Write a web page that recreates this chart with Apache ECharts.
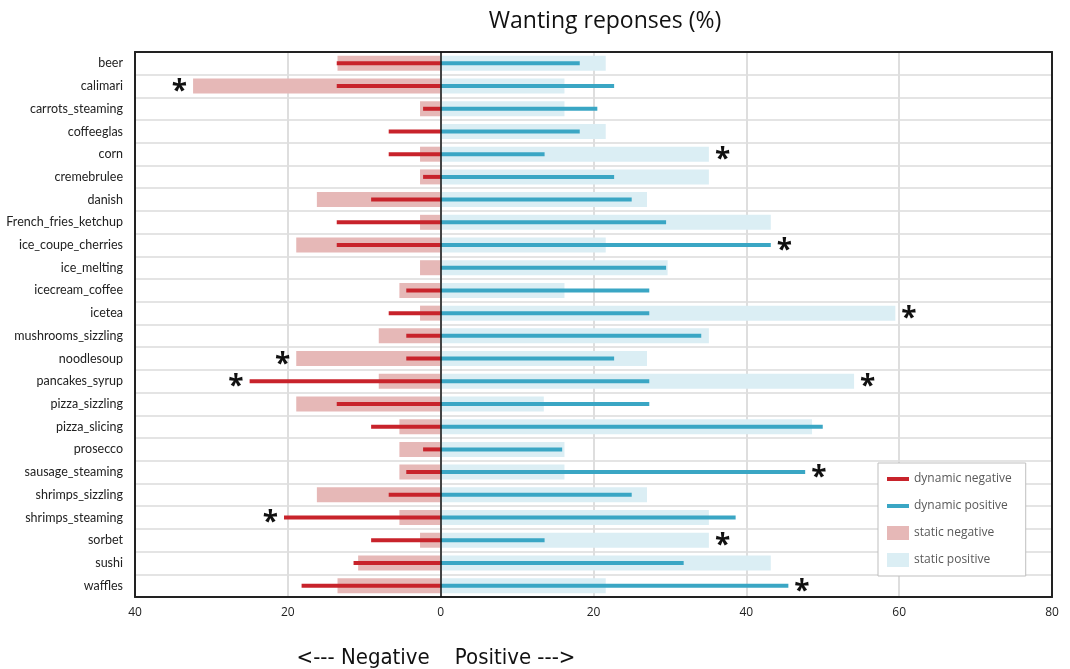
<!DOCTYPE html>
<html>
<head>
<meta charset="utf-8">
<script src="https://cdn.jsdelivr.net/npm/echarts@6/dist/echarts.min.js"></script>
<style>
html,body{margin:0;padding:0;background:#fff;}
#chart{width:1070px;height:669px;}
</style>
</head>
<body>
<div id="chart"></div>
<script>
// ---- data ----
var categories = ['beer','calimari','carrots_steaming','coffeeglas','corn','cremebrulee','danish','French_fries_ketchup','ice_coupe_cherries','ice_melting','icecream_coffee','icetea','mushrooms_sizzling','noodlesoup','pancakes_syrup','pizza_sizzling','pizza_slicing','prosecco','sausage_steaming','shrimps_sizzling','shrimps_steaming','sorbet','sushi','waffles'];
// negative responses (%), shown to the left of zero
var staticNegative  = [13.5, 32.4, 2.7, 0, 2.7, 2.7, 16.2, 2.7, 18.9, 2.7, 5.4, 2.7, 8.1, 18.9, 8.1, 18.9, 5.4, 5.4, 5.4, 16.2, 5.4, 2.7, 10.8, 13.5];
var dynamicNegative = [13.6, 13.6, 2.3, 6.8, 6.8, 2.3, 9.1, 13.6, 13.6, 0, 4.5, 6.8, 4.5, 4.5, 25.0, 13.6, 9.1, 2.3, 4.5, 6.8, 20.5, 9.1, 11.4, 18.2];
// positive responses (%)
var staticPositive  = [21.6, 16.2, 16.2, 21.6, 35.1, 35.1, 27.0, 43.2, 21.6, 29.7, 16.2, 59.5, 35.1, 27.0, 54.1, 13.5, 48.6, 16.2, 16.2, 27.0, 35.1, 35.1, 43.2, 21.6];
var dynamicPositive = [18.2, 22.7, 20.5, 18.2, 13.6, 22.7, 25.0, 29.5, 43.2, 29.5, 27.3, 27.3, 34.1, 22.7, 27.3, 27.3, 50.0, 15.9, 47.7, 25.0, 38.6, 13.6, 31.8, 45.5];
// significance markers (*)
var significantNegative = ['calimari','noodlesoup','pancakes_syrup','shrimps_steaming'];
var significantPositive = ['corn','ice_coupe_cherries','icetea','pancakes_syrup','sausage_steaming','sorbet','waffles'];
var xTicks = [-40, -20, 0, 20, 40, 60, 80];

// pick an installed condensed font if present (for the bottom caption)
function hasFont(name){
  var c = document.createElement('canvas').getContext('2d');
  var s = 'French_fries_ketchup WWmmii';
  c.font = '20px monospace'; var a = c.measureText(s).width;
  c.font = '20px "' + name + '", monospace'; var b = c.measureText(s).width;
  c.font = '20px serif'; var a2 = c.measureText(s).width;
  c.font = '20px "' + name + '", serif'; var b2 = c.measureText(s).width;
  return a !== b || a2 !== b2;
}
var narrow = null;
['Liberation Sans Narrow','DejaVu Sans Condensed','Roboto Condensed','Open Sans Condensed'].forEach(function(n){
  if (!narrow && hasFont(n)) narrow = n;
});
var font = '"Open Sans", "Noto Sans", sans-serif';
var labelFont = '"Lato", "Open Sans", sans-serif';

var starLabel = function(pos){
  return {show:true, formatter:'*', position:pos, distance:6,
          fontSize:28, fontWeight:'bold', color:'#111', fontFamily:font,
          offset:[0,6]};
};
// put the asterisk on whichever bar (static/dynamic) reaches further
function buildData(values, other, sigList, sign, pos, isStatic){
  return values.map(function(v,i){
    var item = {value: sign * v};
    var sig = sigList.indexOf(categories[i]) >= 0;
    var longer = isStatic ? (v >= other[i]) : (v > other[i]);
    if (sig && longer) item.label = starLabel(pos);
    return item;
  });
}

var chart = echarts.init(document.getElementById('chart'));
var lineIcon = 'path://M0,0L0,0M0,5h22v4h-22zM22,14L22,14';
var frameLine = {show:true, onZero:false, lineStyle:{color:'#222', width:2}};
var option = {
  animation:false,
  backgroundColor:'#fff',
  title:[
    {text:'Wanting reponses (%)', left:600, top:5, textAlign:'center',
     textStyle:{fontFamily:font, fontSize:23, fontWeight:'normal', color:'#111'}},
    {text:'<--- Negative    Positive --->', left:431, top:642, textAlign:'center',
     textStyle:{fontFamily:narrow ? '"' + narrow + '", sans-serif' : font, fontSize:22, fontWeight:'normal', color:'#111'}}
  ],
  legend:{
    orient:'vertical', left:878, top:463,
    padding:[9,14,9,9], itemGap:13, itemWidth:22, itemHeight:14,
    backgroundColor:'#fff', borderColor:'#bfbfbf', borderWidth:1,
    textStyle:{fontFamily:font, fontSize:12, color:'#595959'},
    data:[
      {name:'dynamic negative', icon:lineIcon},
      {name:'dynamic positive', icon:lineIcon},
      {name:'static negative', icon:'rect'},
      {name:'static positive', icon:'rect'}
    ]
  },
  grid:{left:135, right:18, top:52, bottom:72},
  xAxis:[{
    type:'value', min:-40, max:80, interval:20, position:'bottom',
    axisLine:frameLine, axisTick:{show:false},
    axisLabel:{formatter:function(v){return Math.abs(v);}, fontFamily:font, fontSize:12, color:'#222', margin:10},
    splitLine:{show:true, lineStyle:{color:'#dedede', width:2}}
  },{
    type:'value', min:-40, max:80, interval:20, position:'top',
    axisLine:frameLine, axisTick:{show:false}, axisLabel:{show:false}, splitLine:{show:false}
  }],
  yAxis:[{
    type:'category', data:categories, inverse:true, position:'left',
    axisLine:frameLine, axisTick:{show:false},
    axisLabel:{fontFamily:labelFont, fontSize:12.5, color:'#222', margin:12},
    splitLine:{show:true, lineStyle:{color:'#e4e4e4', width:2}}
  },{
    type:'category', data:categories, inverse:true, position:'right',
    axisLine:frameLine, axisTick:{show:false}, axisLabel:{show:false}, splitLine:{show:false}
  }],
  series:[
    {name:'static negative', type:'bar', yAxisIndex:0, barWidth:15, barGap:'-100%',
     itemStyle:{color:'#e6b8b7'},
     data:buildData(staticNegative, dynamicNegative, significantNegative, -1, 'left', true)},
    {name:'static positive', type:'bar', yAxisIndex:0, barWidth:15, barGap:'-100%',
     itemStyle:{color:'#dbeef4'},
     data:buildData(staticPositive, dynamicPositive, significantPositive, 1, 'right', true)},
    {name:'dynamic negative', type:'bar', yAxisIndex:1, barWidth:4, barGap:'-100%',
     itemStyle:{color:'#c8232b'},
     data:buildData(dynamicNegative, staticNegative, significantNegative, -1, 'left', false)},
    {name:'dynamic positive', type:'bar', yAxisIndex:1, barWidth:4, barGap:'-100%',
     itemStyle:{color:'#3aa6c4'},
     data:buildData(dynamicPositive, staticPositive, significantPositive, 1, 'right', false),
     markLine:{silent:true, symbol:'none', z:10, label:{show:false},
       lineStyle:{color:'#111', width:1.5, type:'solid'},
       data:[{xAxis:0}]}}
  ]
};
chart.setOption(option);
</script>
</body>
</html>
